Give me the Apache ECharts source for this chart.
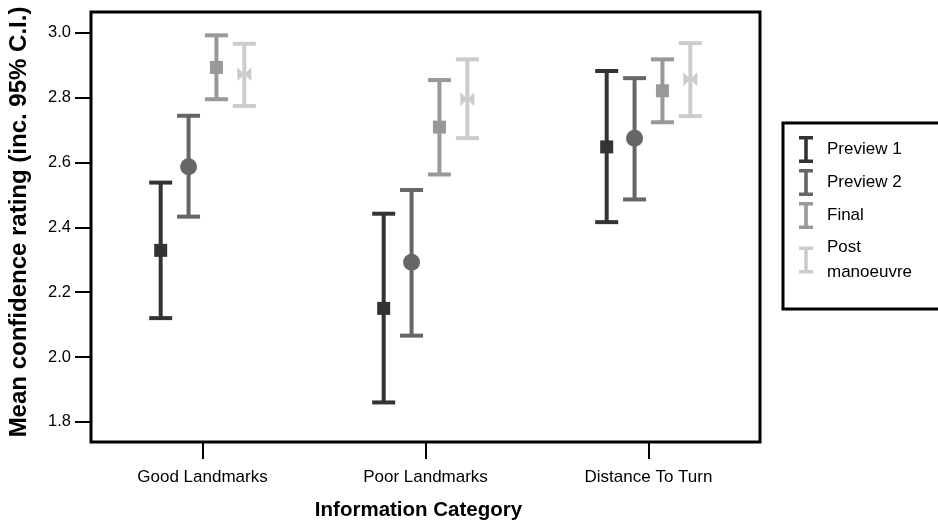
<!DOCTYPE html>
<html>
<head>
<meta charset="utf-8">
<script src="https://cdn.jsdelivr.net/npm/echarts@6/dist/echarts.min.js"></script>
<style>
  html, body { margin: 0; padding: 0; background: #fff; }
  #chart { width: 938px; height: 527px; }
</style>
</head>
<body>
<div id="chart"></div>
<script>
var categories = ['Good Landmarks', 'Poor Landmarks', 'Distance To Turn'];
var seriesNames = ['Preview 1', 'Preview 2', 'Final', 'Post manoeuvre'];

// mean, lower and upper 95% C.I. per category
var preview1Mean = [2.329, 2.150, 2.648];
var preview1Low  = [2.120, 1.860, 2.416];
var preview1High = [2.538, 2.442, 2.882];

var preview2Mean = [2.587, 2.292, 2.675];
var preview2Low  = [2.433, 2.066, 2.486];
var preview2High = [2.744, 2.515, 2.860];

var finalMean = [2.893, 2.709, 2.821];
var finalLow  = [2.795, 2.563, 2.724];
var finalHigh = [2.992, 2.854, 2.918];

var postMean = [2.872, 2.795, 2.857];
var postLow  = [2.774, 2.675, 2.743];
var postHigh = [2.966, 2.918, 2.968];

var yTicks = [1.8, 2.0, 2.2, 2.4, 2.6, 2.8, 3.0];

var means = [preview1Mean, preview2Mean, finalMean, postMean];
var lows = [preview1Low, preview2Low, finalLow, postLow];
var highs = [preview1High, preview2High, finalHigh, postHigh];

var colors = ['#333333', '#666666', '#999999', '#cccccc'];
var offsets = [-0.1875, -0.0625, 0.0625, 0.1875];
var markers = ['square', 'circle', 'square', 'bowtie'];
var font = "'Liberation Sans', Arial, sans-serif";

function markerShape(kind, x, y, col) {
    if (kind === 'circle') {
        return {type: 'circle', shape: {cx: x, cy: y, r: 8.5}, style: {fill: col}};
    }
    if (kind === 'bowtie') {
        return {type: 'polygon', shape: {points: [[x - 7, y - 7], [x + 7, y + 7], [x + 7, y - 7], [x - 7, y + 7]]}, style: {fill: col}};
    }
    return {type: 'rect', shape: {x: x - 6.5, y: y - 6.5, width: 13, height: 13}, style: {fill: col}};
}

function makeRender(s) {
    return function (params, api) {
        var cat = api.value(0);
        var mid = api.coord([cat, api.value(1)]);
        var bw = api.size([1, 0])[0];
        var x = mid[0] + bw * offsets[s];
        var yLo = api.coord([cat, api.value(2)])[1];
        var yHi = api.coord([cat, api.value(3)])[1];
        var col = colors[s];
        var ln = {stroke: col, lineWidth: 4};
        return {
            type: 'group',
            children: [
                {type: 'line', shape: {x1: x, y1: yHi, x2: x, y2: yLo}, style: ln},
                {type: 'line', shape: {x1: x - 11.5, y1: yHi, x2: x + 11.5, y2: yHi}, style: ln},
                {type: 'line', shape: {x1: x - 11.5, y1: yLo, x2: x + 11.5, y2: yLo}, style: ln},
                markerShape(markers[s], x, mid[1], col)
            ]
        };
    };
}

var series = [];
for (var s = 0; s < seriesNames.length; s++) {
    var data = [];
    for (var i = 0; i < categories.length; i++) {
        data.push([i, means[s][i], lows[s][i], highs[s][i]]);
    }
    series.push({
        name: seriesNames[s],
        type: 'custom',
        renderItem: makeRender(s),
        itemStyle: {color: colors[s]},
        encode: {x: 0, y: [1, 2, 3]},
        data: data
    });
}

var chart = echarts.init(document.getElementById('chart'));
var option = {
    animation: false,
    textStyle: {fontFamily: font},
    grid: {
        left: 91, right: 178, top: 12, bottom: 85,
        outerBoundsMode: 'none',
        show: true, borderColor: '#000', borderWidth: 3, backgroundColor: 'transparent'
    },
    legend: {
        orient: 'vertical',
        left: 783, top: 123,
        padding: [13, 60, 24, 16],
        borderColor: '#000', borderWidth: 3,
        itemGap: 6, itemWidth: 14, itemHeight: 27,
        icon: 'path://M0,0H14V3.5H8.8V23.5H14V27H0V23.5H5.2V3.5H0Z',
        data: seriesNames,
        formatter: function (name) {
            return name === 'Post manoeuvre' ? 'Post\nmanoeuvre' : name;
        },
        textStyle: {fontSize: 17, color: '#000', fontFamily: font, lineHeight: 25, padding: [0, 0, 0, 9]}
    },
    xAxis: {
        type: 'category',
        data: categories,
        axisLine: {show: false},
        axisTick: {show: true, alignWithLabel: true, length: 17, lineStyle: {color: '#000', width: 2}},
        axisLabel: {margin: 27, fontSize: 17, color: '#000', fontFamily: font},
        name: 'Information Category',
        nameLocation: 'middle',
        nameGap: 58,
        nameTextStyle: {fontSize: 20.5, fontWeight: 'bold', color: '#000', fontFamily: font, padding: [0, 14, 0, 0]}
    },
    yAxis: {
        type: 'value',
        min: 1.738, max: 3.064,
        splitLine: {show: false},
        axisLine: {show: false},
        axisTick: {show: true, customValues: yTicks, length: 16, lineStyle: {color: '#000', width: 2}},
        axisLabel: {
            customValues: yTicks, margin: 20, fontSize: 16.5, color: '#000', fontFamily: font,
            formatter: function (v) { return v.toFixed(1); }
        },
        name: 'Mean confidence rating (inc. 95% C.I.)',
        nameLocation: 'middle',
        nameGap: 60,
        nameTextStyle: {fontSize: 24, fontWeight: 'bold', color: '#000', fontFamily: font, padding: [0, 0, 0, 10]}
    },
    series: series
};
chart.setOption(option);
window.addEventListener('resize', chart.resize);
</script>
</body>
</html>
